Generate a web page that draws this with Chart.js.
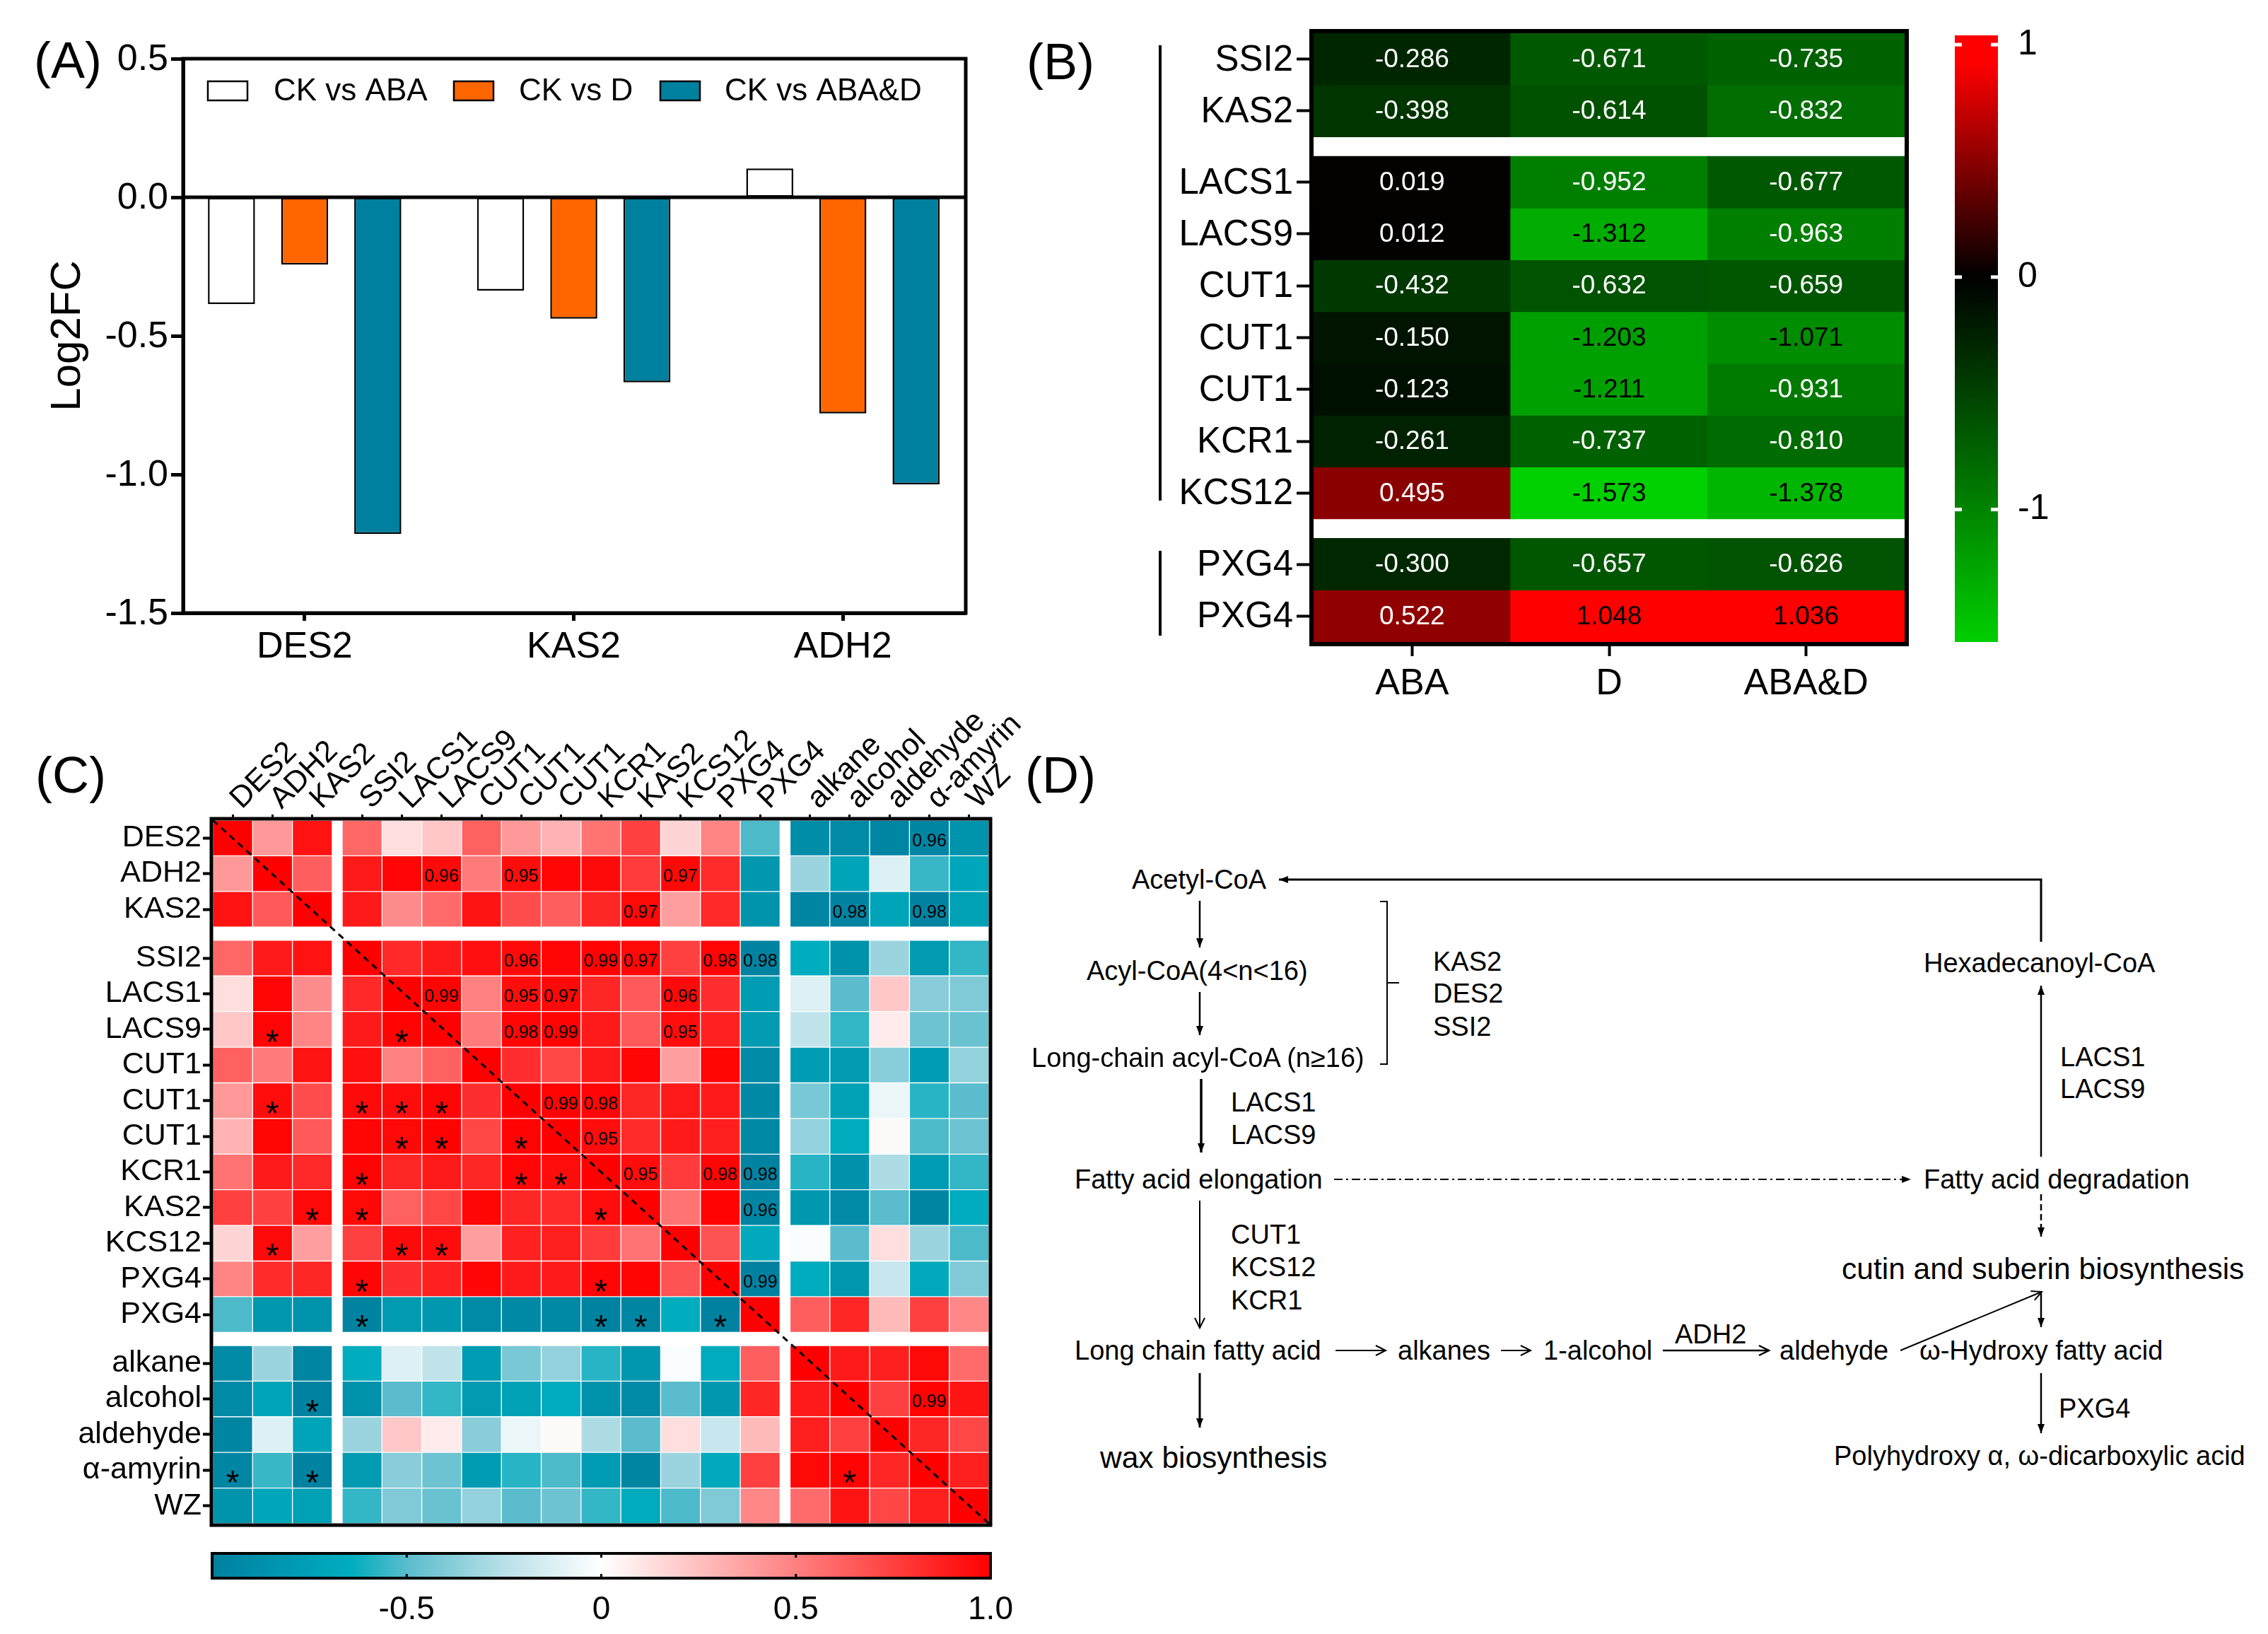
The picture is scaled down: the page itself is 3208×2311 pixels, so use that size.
<!DOCTYPE html>
<html>
<head>
<meta charset="utf-8">
<title>Panels A-D</title>
<script src="https://cdn.jsdelivr.net/npm/chart.js@4"></script>
<style>
  html, body { margin: 0; padding: 0; background: #fff; }
  #page { position: relative; width: 3208px; height: 2311px; overflow: hidden; }
  #page canvas { position: absolute; }
  #page svg { position: absolute; left: 0; top: 0; }
  .t { position: absolute; white-space: nowrap; line-height: 1; color: #000; transform: translateY(-50%); font-family: "Liberation Sans", Arial, sans-serif; }
</style>
</head>
<body>
<div id="page"></div>
<script>
// Panel A
const groupsA = ['DES2', 'KAS2', 'ADH2'];
const ticksA = [0.5, 0, -0.5, -1, -1.5];
const ckAba = [-0.385, -0.337, 0.104];
const ckD = [-0.243, -0.438, -0.78];
const ckAbaD = [-1.215, -0.668, -1.036];

// Panel B
const rowsB = ['SSI2', 'KAS2', 'LACS1', 'LACS9', 'CUT1', 'CUT1', 'CUT1', 'KCR1', 'KCS12', 'PXG4', 'PXG4'];
const groupSizesB = [2, 7, 2];
const colsB = ['ABA', 'D', 'ABA&D'];
const fcAba = [-0.286, -0.398, 0.019, 0.012, -0.432, -0.150, -0.123, -0.261, 0.495, -0.300, 0.522];
const fcD = [-0.671, -0.614, -0.952, -1.312, -0.632, -1.203, -1.211, -0.737, -1.573, -0.657, 1.048];
const fcAbaD = [-0.735, -0.832, -0.677, -0.963, -0.659, -1.071, -0.931, -0.810, -1.378, -0.626, 1.036];
const ticksB = [1, 0, -1];

// Panel C
const namesC = ['DES2', 'ADH2', 'KAS2', 'SSI2', 'LACS1', 'LACS9', 'CUT1', 'CUT1', 'CUT1', 'KCR1', 'KAS2', 'KCS12', 'PXG4', 'PXG4', 'alkane', 'alcohol', 'aldehyde', 'α-amyrin', 'WZ'];
const groupSizesC = [3, 11, 5];
const corr = [
  [1, .4, .93, .6, .13, .22, .62, .4, .3, .55, .75, .17, .48, -.52, -.9, -.92, -.96, -.96, -.85],
  [.4, 1, .63, .9, .98, .96, .52, .95, .98, .96, .77, .97, .83, -.82, -.33, -.72, -.12, -.55, -.7],
  [.93, .65, 1, .9, .45, .58, .92, .7, .63, .85, .97, .38, .84, -.85, -.95, -.98, -.72, -.98, -.75],
  [.6, .9, .93, 1, .84, .9, .94, .96, .98, .99, .97, .75, .98, -.98, -.65, -.87, -.33, -.8, -.56],
  [.13, .98, .45, .84, 1, .99, .5, .95, .97, .85, .65, .96, .82, -.78, -.12, -.5, .22, -.38, -.4],
  [.22, .98, .48, .9, .99, 1, .52, .98, .99, .9, .65, .95, .87, -.8, -.22, -.56, .08, -.45, -.46],
  [.62, .52, .92, .94, .5, .62, 1, .82, .72, .9, .98, .38, .98, -.92, -.78, -.8, -.38, -.78, -.35],
  [.4, .95, .7, .96, .95, .98, .82, 1, .99, .98, .85, .9, .9, -.93, -.42, -.75, -.07, -.58, -.5],
  [.3, .98, .65, .98, .97, .99, .72, .99, 1, .95, .83, .9, .88, -.93, -.35, -.66, .02, -.52, -.45],
  [.55, .9, .84, .99, .85, .9, .85, .98, .95, 1, .95, .77, .98, -.98, -.58, -.87, -.28, -.78, -.56],
  [.75, .75, .97, .97, .62, .72, .98, .85, .83, .95, 1, .55, .99, -.96, -.82, -.92, -.5, -.95, -.66],
  [.17, .96, .38, .75, .96, .95, .38, .87, .88, .77, .55, 1, .68, -.67, -.02, -.5, .13, -.33, -.52],
  [.48, .83, .85, .98, .82, .87, .98, .9, .9, .98, .99, .68, 1, -.99, -.66, -.82, -.2, -.68, -.4],
  [-.52, -.82, -.85, -.98, -.8, -.82, -.92, -.93, -.93, -.98, -.96, -.65, -.99, 1, .63, .85, .27, .75, .47],
  [-.92, -.33, -.95, -.65, -.12, -.22, -.78, -.42, -.35, -.58, -.82, -.02, -.66, .63, 1, .9, .88, .97, .58],
  [-.92, -.72, -.98, -.87, -.5, -.56, -.8, -.75, -.66, -.87, -.92, -.5, -.82, .85, .9, 1, .75, .99, .92],
  [-.96, -.12, -.72, -.33, .22, .08, -.38, -.07, .02, -.28, -.5, .13, -.2, .27, .88, .75, 1, .85, .72],
  [-.96, -.55, -.98, -.8, -.38, -.45, -.78, -.58, -.52, -.78, -.95, -.33, -.68, .75, .97, .99, .85, 1, .88],
  [-.85, -.7, -.75, -.56, -.4, -.46, -.35, -.5, -.45, -.56, -.66, -.52, -.4, .47, .58, .92, .72, .88, 1]
];
// row, column, printed r
const printedR = [
  [0, 17, '0.96'], [1, 5, '0.96'], [1, 7, '0.95'], [1, 11, '0.97'], [2, 10, '0.97'], [2, 15, '0.98'], [2, 17, '0.98'],
  [3, 7, '0.96'], [3, 9, '0.99'], [3, 10, '0.97'], [3, 12, '0.98'], [3, 13, '0.98'],
  [4, 5, '0.99'], [4, 7, '0.95'], [4, 8, '0.97'], [4, 11, '0.96'],
  [5, 7, '0.98'], [5, 8, '0.99'], [5, 11, '0.95'], [7, 8, '0.99'], [7, 9, '0.98'], [8, 9, '0.95'],
  [9, 10, '0.95'], [9, 12, '0.98'], [9, 13, '0.98'], [10, 13, '0.96'], [12, 13, '0.99'], [15, 17, '0.99']
];
const starCells = [
  [5, 1], [5, 4], [7, 1], [7, 3], [7, 4], [7, 5], [8, 4], [8, 5], [8, 7], [9, 3], [9, 7], [9, 8],
  [10, 2], [10, 3], [10, 9], [11, 1], [11, 4], [11, 5], [12, 3], [12, 9], [13, 3], [13, 9], [13, 10], [13, 12],
  [15, 2], [17, 0], [17, 2], [17, 15]
];
const ticksC = [-0.5, 0, 0.5, 1];
const tickNamesC = ['-0.5', '0', '0.5', '1.0'];

const FONT = '"Liberation Sans", Arial, sans-serif';
Chart.defaults.font.family = FONT;
Chart.defaults.color = '#000';
Chart.defaults.animation = false;
Chart.defaults.plugins.legend.display = false;
Chart.defaults.plugins.tooltip.enabled = false;

const page = document.getElementById('page');

function addCanvas(box) {
  const c = document.createElement('canvas');
  c.width = box.r - box.l;
  c.height = box.b - box.t;
  c.style.left = box.l + 'px';
  c.style.top = box.t + 'px';
  c.style.width = c.width + 'px';
  c.style.height = c.height + 'px';
  page.appendChild(c);
  return c.getContext('2d');
}

// row or column start positions, with a gap between the groups
function cellStarts(groups, gap) {
  const starts = [];
  let pos = 0;
  groups.forEach(n => {
    for (let i = 0; i < n; i++) starts.push(pos++);
    pos += gap;
  });
  return { starts, total: pos - gap };
}

function framePlugin(lw, out) {
  return {
    id: 'frame',
    afterDatasetsDraw(chart) {
      const a = chart.chartArea, g = chart.ctx;
      g.save();
      g.strokeStyle = '#000';
      g.lineWidth = lw;
      g.strokeRect(a.left - out, a.top - out, a.width + 2 * out, a.height + 2 * out);
      g.restore();
    }
  };
}

/* ---------- A: grouped bars ---------- */
const boxA = { l: 0, t: 30, r: 1420, b: 1000 };
const plotA = { l: 259, t: 83, r: 1366, b: 867 };
const legendA = [{ box: 294, text: 387 }, { box: 642, text: 734 }, { box: 934, text: 1025 }];

new Chart(addCanvas(boxA), {
  type: 'bar',
  data: {
    datasets: [
      { label: 'CK vs ABA', data: ckAba.map((y, x) => ({ x, y })), backgroundColor: '#fff' },
      { label: 'CK vs D', data: ckD.map((y, x) => ({ x, y })), backgroundColor: '#ff6600' },
      { label: 'CK vs ABA&D', data: ckAbaD.map((y, x) => ({ x, y })), backgroundColor: '#00809f' }
    ]
  },
  options: {
    responsive: false,
    devicePixelRatio: 1,
    layout: { padding: { top: plotA.t - boxA.t, right: boxA.r - plotA.r } },
    datasets: { bar: { borderColor: '#000', borderWidth: 2.5, borderSkipped: false, categoryPercentage: 0.8155, barPercentage: 0.643 } },
    scales: {
      x: {
        type: 'linear', min: -0.4515, max: 2.4565, offset: false,
        afterBuildTicks: s => { s.ticks = groupsA.map((g, i) => ({ value: i })); },
        afterFit: s => { s.height = boxA.b - plotA.b; },
        grid: { offset: false, drawOnChartArea: false, color: '#000', tickLength: 11, tickWidth: 5 },
        border: { color: '#000', width: 5 },
        ticks: { autoSkip: false, maxRotation: 0, padding: 6, font: { size: 52 }, callback: (v, i) => groupsA[i] }
      },
      y: {
        min: -1.5, max: 0.5,
        afterBuildTicks: s => { s.ticks = ticksA.map(value => ({ value })); },
        afterFit: s => { s.width = plotA.l - boxA.l; },
        grid: { drawOnChartArea: false, color: '#000', tickLength: 17, tickWidth: 5 },
        border: { color: '#000', width: 5 },
        title: { display: true, text: 'Log2FC', font: { size: 60 }, padding: { top: 60, bottom: 0 } },
        ticks: { padding: 4, labelOffset: 2, font: { size: 52 }, callback: v => Number(v).toFixed(1) }
      }
    }
  },
  plugins: [framePlugin(5, 0), {
    id: 'zeroAndLegend',
    afterDatasetsDraw(chart) {
      const g = chart.ctx, a = chart.chartArea, y0 = chart.scales.y.getPixelForValue(0);
      g.save();
      g.strokeStyle = '#000';
      g.lineWidth = 5;
      g.beginPath();
      g.moveTo(a.left, y0);
      g.lineTo(a.right, y0);
      g.stroke();
      g.font = '44px ' + FONT;
      g.textBaseline = 'middle';
      g.fillStyle = '#000';
      chart.data.datasets.forEach((d, i) => {
        g.lineWidth = 2.5;
        g.fillStyle = d.backgroundColor;
        g.fillRect(legendA[i].box, 115 - boxA.t, 56, 27);
        g.strokeRect(legendA[i].box, 115 - boxA.t, 56, 27);
        g.fillStyle = '#000';
        g.fillText(d.label, legendA[i].text, 130 - boxA.t);
      });
      g.restore();
    }
  }]
});

/* ---------- B: fold change heat map ---------- */
function colorB(v) {
  if (v >= 0) return `rgb(${Math.min(255, Math.round(v * 278))},0,0)`;
  return `rgb(0,${Math.min(255, Math.round(-v * 132))},0)`;
}
const boxB = { l: 1640, t: 0, r: 2760, b: 1000 };
const plotB = { l: 1858, t: 47, r: 2694, b: 908 };
const layoutB = cellStarts(groupSizesB, 0.375);
const columnsB = [fcAba, fcD, fcAbaD];

new Chart(addCanvas(boxB), {
  type: 'bar',
  data: {
    labels: colsB,
    datasets: rowsB.map((name, r) => ({
      label: name,
      data: columnsB.map(() => [layoutB.starts[r], layoutB.starts[r] + 1]),
      backgroundColor: columnsB.map(col => colorB(col[r])),
      grouped: false, categoryPercentage: 1, barPercentage: 1, borderWidth: 0
    }))
  },
  options: {
    responsive: false,
    devicePixelRatio: 1,
    layout: { padding: { top: plotB.t - boxB.t, right: boxB.r - plotB.r } },
    scales: {
      x: {
        afterFit: s => { s.height = boxB.b - plotB.b; },
        grid: { offset: false, drawOnChartArea: false, color: '#000', tickLength: 20, tickWidth: 4 },
        border: { display: false },
        ticks: { padding: 8, maxRotation: 0, font: { size: 52 } }
      },
      y: {
        reverse: true, min: 0, max: layoutB.total,
        afterBuildTicks: s => { s.ticks = layoutB.starts.map(p => ({ value: p + 0.5 })); },
        afterFit: s => { s.width = plotB.l - boxB.l; },
        grid: { drawOnChartArea: false, color: '#000', tickLength: 24, tickWidth: 4 },
        border: { display: false },
        ticks: { autoSkip: false, padding: 5, labelOffset: 2, font: { size: 51 }, callback: (v, i) => rowsB[i] }
      }
    }
  },
  plugins: [framePlugin(6, 3), {
    id: 'cellValues',
    afterDatasetsDraw(chart) {
      const g = chart.ctx, xs = chart.scales.x, ys = chart.scales.y;
      g.save();
      g.font = '37px ' + FONT;
      g.textAlign = 'center';
      g.textBaseline = 'middle';
      columnsB.forEach((col, c) => col.forEach((v, r) => {
        g.fillStyle = Math.abs(v) > 1 ? '#000' : '#fff';
        g.fillText(v.toFixed(3), xs.getPixelForValue(c), ys.getPixelForValue(layoutB.starts[r] + 0.5) + 1);
      }));
      g.restore();
    }
  }]
});

// B colour bar
const boxBarB = { l: 2740, t: 0, r: 2960, b: 1000 };
const plotBarB = { l: 2765, t: 47.7, r: 2826, b: 908 };
const rangeB = [-1.57, 1.04];
new Chart(addCanvas(boxBarB), {
  type: 'bar',
  data: {
    labels: [''],
    datasets: [{
      data: [rangeB],
      categoryPercentage: 1, barPercentage: 1, borderWidth: 0,
      backgroundColor(ctx) {
        const a = ctx.chart.chartArea;
        if (!a) return '#000';
        const grad = ctx.chart.ctx.createLinearGradient(0, a.bottom, 0, a.top);
        [-1.57, -1, 0, 0.92, 1.04].forEach(v => grad.addColorStop((v - rangeB[0]) / (rangeB[1] - rangeB[0]), colorB(v)));
        return grad;
      }
    }]
  },
  options: {
    responsive: false,
    devicePixelRatio: 1,
    layout: { padding: { top: plotBarB.t - boxBarB.t, left: plotBarB.l - boxBarB.l, bottom: boxBarB.b - plotBarB.b } },
    scales: {
      x: { display: false },
      y: {
        position: 'right', min: rangeB[0], max: rangeB[1], bounds: 'data',
        afterBuildTicks: s => { s.ticks = ticksB.map(value => ({ value })); },
        afterFit: s => { s.width = boxBarB.r - plotBarB.r; },
        grid: { display: false },
        border: { display: false },
        ticks: { padding: 20, font: { size: 50 }, callback: v => String(v) }
      }
    }
  },
  plugins: [{
    id: 'whiteTicks',
    afterDatasetsDraw(chart) {
      const g = chart.ctx, a = chart.chartArea;
      g.save();
      g.fillStyle = '#fff';
      ticksB.forEach(v => {
        const y = chart.scales.y.getPixelForValue(v);
        g.fillRect(a.left, y - 2.5, 10, 5);
        g.fillRect(a.right - 10, y - 2.5, 10, 5);
      });
      g.restore();
    }
  }]
});

/* ---------- C: correlation matrix ---------- */
function hex(a, b, t) {
  return a.map((v, i) => Math.round(v + (b[i] - v) * t));
}
const stopsC = [[-1, [0, 128, 159]], [-0.64, [0, 174, 191]], [-0.5, [90, 188, 204]], [-0.25, [185, 224, 232]], [0, [255, 255, 255]], [1, [255, 0, 0]]];
function colorC(v) {
  for (let i = 1; i < stopsC.length; i++) {
    if (v <= stopsC[i][0]) {
      const t = (v - stopsC[i - 1][0]) / (stopsC[i][0] - stopsC[i - 1][0]);
      return `rgb(${hex(stopsC[i - 1][1], stopsC[i][1], t).join(',')})`;
    }
  }
  return 'rgb(255,0,0)';
}
const boxC = { l: 0, t: 990, r: 1500, b: 2195 };
const plotC = { l: 301, t: 1160, r: 1399, b: 2155 };
const colLayout = cellStarts(groupSizesC, 0.25);
const rowLayout = cellStarts(groupSizesC, 0.37);

new Chart(addCanvas(boxC), {
  type: 'bar',
  data: {
    datasets: [{
      type: 'line',
      data: [{ x: 0, y: 0 }, { x: colLayout.total, y: rowLayout.total }],
      borderColor: '#000', borderWidth: 3, borderDash: [9, 7], pointRadius: 0, order: -1
    }].concat(corr.map((vals, r) => ({
      label: namesC[r],
      data: vals.map((v, c) => ({ x: colLayout.starts[c] + 0.5, y: [rowLayout.starts[r], rowLayout.starts[r] + 1] })),
      backgroundColor: vals.map(colorC),
      grouped: false, categoryPercentage: 1, barPercentage: 1,
      borderWidth: 1, borderColor: 'rgba(255,255,255,0.45)', borderSkipped: false
    })))
  },
  options: {
    responsive: false,
    devicePixelRatio: 1,
    layout: { padding: { bottom: boxC.b - plotC.b, right: boxC.r - plotC.r } },
    scales: {
      x: {
        type: 'linear', position: 'top', min: 0, max: colLayout.total, offset: false,
        afterBuildTicks: s => { s.ticks = colLayout.starts.map(p => ({ value: p + 0.5 })); },
        afterFit: s => { s.height = plotC.t - boxC.t; },
        grid: { offset: false, drawOnChartArea: false, color: '#000', tickLength: 8, tickWidth: 3 },
        border: { display: false },
        ticks: { autoSkip: false, minRotation: 45, maxRotation: 45, padding: -3, labelOffset: 41, font: { size: 43 }, callback: (v, i) => namesC[i] }
      },
      y: {
        reverse: true, min: 0, max: rowLayout.total,
        afterBuildTicks: s => { s.ticks = rowLayout.starts.map(p => ({ value: p + 0.5 })); },
        afterFit: s => { s.width = plotC.l - boxC.l; },
        grid: { drawOnChartArea: false, color: '#000', tickLength: 14, tickWidth: 4 },
        border: { display: false },
        ticks: { autoSkip: false, padding: 2, font: { size: 43 }, callback: (v, i) => namesC[i] }
      }
    }
  },
  plugins: [framePlugin(5, 2), {
    id: 'marks',
    afterDatasetsDraw(chart) {
      const g = chart.ctx, xs = chart.scales.x, ys = chart.scales.y;
      const px = c => xs.getPixelForValue(colLayout.starts[c] + 0.5);
      const py = r => ys.getPixelForValue(rowLayout.starts[r] + 0.5);
      g.save();
      g.fillStyle = '#000';
      g.textAlign = 'center';
      g.textBaseline = 'middle';
      g.font = '25px ' + FONT;
      printedR.forEach(([r, c, s]) => g.fillText(s, px(c), py(r) + 5));
      g.textBaseline = 'alphabetic';
      g.font = '48px ' + FONT;
      starCells.forEach(([r, c]) => g.fillText('*', px(c), py(r) + 34));
      g.restore();
    }
  }]
});

// C colour bar
const boxBarC = { l: 250, t: 2180, r: 1480, b: 2311 };
const plotBarC = { l: 300, t: 2197, r: 1401, b: 2232 };
new Chart(addCanvas(boxBarC), {
  type: 'bar',
  data: {
    labels: [''],
    datasets: [{
      data: [[-1, 1]],
      categoryPercentage: 1, barPercentage: 1, borderWidth: 0,
      backgroundColor(ctx) {
        const a = ctx.chart.chartArea;
        if (!a) return '#000';
        const grad = ctx.chart.ctx.createLinearGradient(a.left, 0, a.right, 0);
        stopsC.forEach(s => grad.addColorStop((s[0] + 1) / 2, `rgb(${s[1].join(',')})`));
        return grad;
      }
    }]
  },
  options: {
    indexAxis: 'y',
    responsive: false,
    devicePixelRatio: 1,
    layout: { padding: { top: plotBarC.t - boxBarC.t, left: plotBarC.l - boxBarC.l, right: boxBarC.r - plotBarC.r } },
    scales: {
      y: { display: false },
      x: {
        min: -1, max: 1,
        afterBuildTicks: s => { s.ticks = ticksC.map(value => ({ value })); },
        afterFit: s => { s.height = boxBarC.b - plotBarC.b; },
        grid: { display: false },
        border: { display: false },
        ticks: { autoSkip: false, maxRotation: 0, padding: 10, font: { size: 46 }, callback: (v, i) => tickNamesC[i] }
      }
    }
  },
  plugins: [framePlugin(4, 0), {
    id: 'innerTicks',
    afterDatasetsDraw(chart) {
      const g = chart.ctx, a = chart.chartArea;
      g.save();
      g.fillStyle = '#000';
      ticksC.slice(0, 3).forEach(v => {
        const x = chart.scales.x.getPixelForValue(v);
        g.fillRect(x - 1.5, a.top, 3, 6);
        g.fillRect(x - 1.5, a.bottom - 6, 3, 6);
      });
      g.restore();
    }
  }]
});

/* ---------- letters and D: pathway text ---------- */
function addText(s, x, y, size) {
  const d = document.createElement('div');
  d.className = 't';
  d.textContent = s;
  d.style.left = x + 'px';
  d.style.top = y + 'px';
  d.style.fontSize = size + 'px';
  page.appendChild(d);
}
addText('(A)', 48, 85, 72);
addText('(B)', 1452, 87, 72);
addText('(C)', 50, 1096, 72);
addText('(D)', 1450, 1096, 72);

[
  ['Acetyl-CoA', 1601, 1244], ['Acyl-CoA(4<n<16)', 1537, 1373], ['Long-chain acyl-CoA (n≥16)', 1459, 1496],
  ['Fatty acid elongation', 1520, 1668], ['Long chain fatty acid', 1520, 1910],
  ['KAS2', 2027, 1360], ['DES2', 2027, 1405], ['SSI2', 2027, 1452],
  ['LACS1', 1741, 1559], ['LACS9', 1741, 1605], ['CUT1', 1741, 1746], ['KCS12', 1741, 1792], ['KCR1', 1741, 1839],
  ['alkanes', 1977, 1910], ['1-alcohol', 2183, 1910], ['ADH2', 2369, 1887], ['aldehyde', 2517, 1910],
  ['ω-Hydroxy fatty acid', 2715, 1910], ['Hexadecanoyl-CoA', 2721, 1362], ['LACS1', 2914, 1495], ['LACS9', 2914, 1540],
  ['Fatty acid degradation', 2721, 1668], ['PXG4', 2912, 1992]
].forEach(t => addText(t[0], t[1], t[2], 38));
addText('wax biosynthesis', 1556, 2062, 42.5);
addText('cutin and suberin biosynthesis', 2605, 1795, 42.5);
addText('Polyhydroxy α, ω-dicarboxylic acid', 2594, 2059, 38);

function arrow(x1, y1, x2, y2, lw, kind, dash) {
  const ang = Math.atan2(y2 - y1, x2 - x1);
  const len = kind === 'open' ? 14 : 13, wid = kind === 'open' ? 7 : 5;
  const p = (l, w) => `${x2 - l * Math.cos(ang) - w * Math.sin(ang)},${y2 - l * Math.sin(ang) + w * Math.cos(ang)}`;
  let s = `<line x1="${x1}" y1="${y1}" x2="${x2}" y2="${y2}" stroke="#000" stroke-width="${lw}"${dash ? ` stroke-dasharray="${dash}"` : ''}/>`;
  if (kind === 'open') s += `<polyline points="${p(len, wid)} ${x2},${y2} ${p(len, -wid)}" fill="none" stroke="#000" stroke-width="${lw}"/>`;
  else s += `<polygon points="${p(len, wid)} ${x2},${y2} ${p(len, -wid)}" fill="#000"/>`;
  return s;
}
let svg = '';
svg += '<polyline points="2887,1332 2887,1244 1827,1244" fill="none" stroke="#000" stroke-width="3"/>' + arrow(1827, 1244, 1809, 1244, 3);
svg += arrow(1697, 1274, 1697, 1340, 2.5) + arrow(1697, 1403, 1697, 1464, 2.5);
svg += arrow(1699, 1526, 1699, 1630, 3.5) + arrow(1697, 1698, 1697, 1878, 2, 'open') + arrow(1697, 1942, 1697, 2019, 3);
svg += '<polyline points="1952,1275 1962,1275 1962,1505 1952,1505" fill="none" stroke="#000" stroke-width="2"/><line x1="1962" y1="1390" x2="1979" y2="1390" stroke="#000" stroke-width="2"/>';
svg += arrow(1889, 1910, 1960, 1910, 2, 'open') + arrow(2123, 1910, 2165, 1910, 2, 'open') + arrow(2352, 1910, 2502, 1910, 2.5, 'open');
svg += arrow(2688, 1910, 2888, 1827, 2, 'open') + arrow(2887, 1829, 2887, 1877, 2.5);
svg += arrow(2887, 1689, 2887, 1749, 2.5, 'solid', '9 5') + arrow(1887, 1668, 2703, 1668, 2, 'solid', '12 5 3 5');
svg += arrow(2887, 1636, 2887, 1394, 2.5) + arrow(2887, 1942, 2887, 2027, 2.5);
svg += '<line x1="1641" y1="64" x2="1641" y2="708" stroke="#000" stroke-width="4"/><line x1="1641" y1="779" x2="1641" y2="899" stroke="#000" stroke-width="4"/>';
const holder = document.createElement('div');
holder.innerHTML = `<svg width="3208" height="2311" xmlns="http://www.w3.org/2000/svg">${svg}</svg>`;
page.appendChild(holder.firstChild);
</script>
</body>
</html>
